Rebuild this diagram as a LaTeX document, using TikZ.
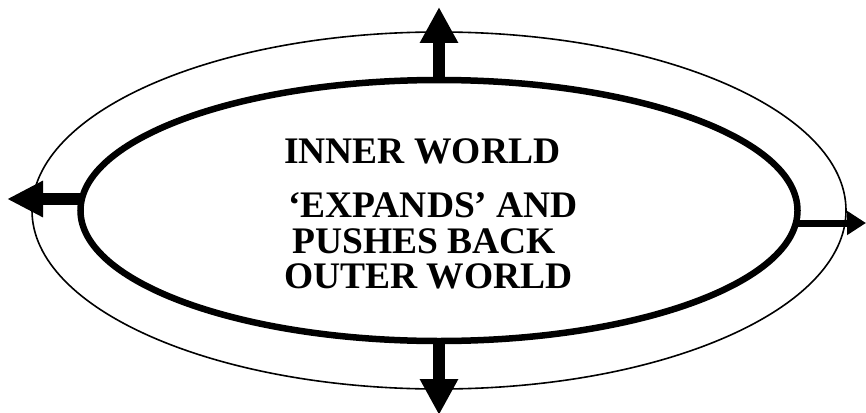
\documentclass[tikz,border=0pt]{standalone}
\usepackage{fontspec}
\setmainfont{Liberation Serif}
\usepackage{tikz}
\usetikzlibrary{shapes.geometric, arrows.meta}
\tikzset{
  worldring/.style={ellipse, draw=black, inner sep=0pt, outer sep=0pt},
  bigarrow/.style={-{Triangle[length=36pt, width=36pt]}, line width=12pt, color=black},
  smallarrow/.style={-{Triangle[length=19pt, width=23pt]}, line width=7pt, color=black},
  caption/.style={anchor=base west, inner sep=0pt, font=\fontsize{37.5}{37.5}\selectfont\bfseries}
}
\begin{document}
\begin{tikzpicture}[x=1pt, y=-1pt]
  \useasboundingbox (0,0) rectangle (866,412);
  % the two worlds
  \node[worldring, line width=1.6pt, minimum width=814pt, minimum height=357pt] (outer) at (439,210.5) {};
  \node[worldring, line width=6.5pt, minimum width=717pt, minimum height=261pt] (inner) at (439,210.5) {};

  % free ends of the arrows
  \coordinate (upend) at (439,7);
  \coordinate (downend) at (439,415);
  \coordinate (leftend) at (7,199);
  \coordinate (rightend) at (866,223);

  % pushing outwards
  \draw[bigarrow] (inner.north) -- (upend);
  \draw[bigarrow] (inner.south) -- (downend);
  \draw[line width=12pt, -{Triangle[length=36pt, width=34pt]}] ([yshift=11.5pt, xshift=2pt]inner.west) -- (leftend);
  \draw[smallarrow] ([yshift=-12.5pt, xshift=-1pt]inner.east) -- (rightend);

  % text
  \node[caption] (line1) at (284,163) {INNER WORLD};
  \node[caption] (line2) at (288,217) {‘EXPANDS’ AND};
  \node[caption] (line3) at (292,253) {PUSHES BACK};
  \node[caption] (line4) at (284,288) {OUTER WORLD};
\end{tikzpicture}
\end{document}
